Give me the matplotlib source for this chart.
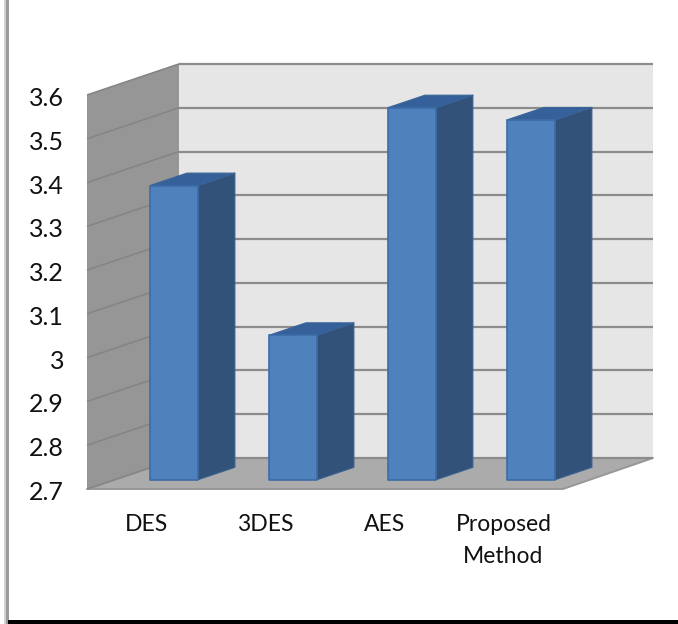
import matplotlib
matplotlib.use('Agg')
import matplotlib.pyplot as plt
from matplotlib.patches import Rectangle
from matplotlib.transforms import ScaledTranslation

# Values for each scheme
categories = ['DES', '3DES', 'AES', 'Proposed\nMethod']
values = [3.372, 3.03, 3.55, 3.522]
y_ticks = [2.7, 2.8, 2.9, 3.0, 3.1, 3.2, 3.3, 3.4, 3.5, 3.6]
y_labels = ['2.7', '2.8', '2.9', '3', '3.1', '3.2', '3.3', '3.4', '3.5', '3.6']

W, H = 678, 624
BASE = 2.7
TOP = 3.6
# Oblique depth of the box, in data units
DEPTH_X = 0.773
DEPTH_Y = 0.0708
BACK_TRIM = 0.017
BAR_WIDTH = 0.403
BAR_NEAR = 0.3
BAR_FAR = 0.7

plt.rcParams['font.family'] = ['Lato', 'DejaVu Sans']


def project(x, v, d):
    """Oblique projection of a point at depth d (0 front, 1 back)."""
    return x + d * DEPTH_X, v + d * DEPTH_Y


def face(ax, corners, color, edge=None, lw=0.0, z=1):
    xs, ys = zip(*[project(*c) for c in corners])
    ax.fill(xs, ys, facecolor=color, edgecolor=edge or color, linewidth=lw,
            zorder=z, clip_on=False, joinstyle='round')


def line3d(ax, a, b, color, lw, z=2):
    p, q = project(*a), project(*b)
    ax.plot([p[0], q[0]], [p[1], q[1]], color=color, lw=lw, zorder=z,
            clip_on=False, solid_capstyle='butt')


def draw_box(ax):
    n = len(categories)
    back = n - BACK_TRIM
    # back wall, side wall, floor
    face(ax, [(0, BASE, 1), (back, BASE, 1), (back, TOP, 1), (0, TOP, 1)], '#e6e6e6')
    face(ax, [(0, BASE, 0), (0, BASE, 1), (0, TOP, 1), (0, TOP, 0)], '#969696')
    face(ax, [(0, BASE, 0), (n, BASE, 0), (back, BASE, 1), (0, BASE, 1)], '#ababab',
         edge='#979797', lw=1.4, z=1.5)
    for v in y_ticks:
        line3d(ax, (0, v, 1), (back, v, 1), '#8c8c8c', 1.6)
        line3d(ax, (0, v, 0), (0, v, 1), '#858585', 1.2)


def draw_bar(ax, x, value, z):
    left, right = x - BAR_WIDTH / 2, x + BAR_WIDTH / 2
    edge = '#3a6499'
    face(ax, [(right, BASE, BAR_NEAR), (right, BASE, BAR_FAR),
              (right, value, BAR_FAR), (right, value, BAR_NEAR)],
         '#32527a', edge='#37608f', lw=0.8, z=z)
    face(ax, [(left, value, BAR_NEAR), (right, value, BAR_NEAR),
              (right, value, BAR_FAR), (left, value, BAR_FAR)],
         '#35609a', edge=edge, lw=0.8, z=z)
    face(ax, [(left, BASE, BAR_NEAR), (right, BASE, BAR_NEAR),
              (right, value, BAR_NEAR), (left, value, BAR_NEAR)],
         '#4f81bd', edge='#3c6ca8', lw=1.2, z=z + 0.1)


fig = plt.figure(figsize=(W / 100, H / 100), dpi=100, facecolor='white')
ax = fig.add_axes([87 / W, 1 - 489 / H, 476 / W, 394 / H])
ax.set_xlim(0, len(categories))
ax.set_ylim(BASE, TOP)
for spine in ax.spines.values():
    spine.set_visible(False)
ax.patch.set_visible(False)

draw_box(ax)
centers = [i + 0.5 for i in range(len(categories))]
for i, (c, v) in enumerate(zip(centers, values)):
    draw_bar(ax, c, v, 3 + i)

ax.set_yticks(y_ticks)
ax.set_yticklabels(y_labels, fontsize=18, color='#111111')
ax.set_xticks(centers)
ax.set_xticklabels(categories, fontsize=16.5, color='#111111', linespacing=1.65)
ax.tick_params(axis='y', length=0, pad=16.5)
ax.tick_params(axis='x', length=0, pad=18)

# nudge the value labels down a little
nudge = ScaledTranslation(0, -1.5 / 100, fig.dpi_scale_trans)
for label in ax.get_yticklabels():
    label.set_transform(label.get_transform() + nudge)

# Page frame: shadowed rule on the left, heavy rule along the bottom
fig.add_artist(Rectangle((4 / W, 0), 2 / W, 1, transform=fig.transFigure,
                         facecolor='#d0d0d0', edgecolor='none'))
fig.add_artist(Rectangle((6 / W, 0), 2.5 / W, 1, transform=fig.transFigure,
                         facecolor='#9a9a9a', edgecolor='none'))
fig.add_artist(Rectangle((8 / W, 0), 670 / W, 4 / H, transform=fig.transFigure,
                         facecolor='#000000', edgecolor='none'))

fig.savefig('out.png', dpi=100)
